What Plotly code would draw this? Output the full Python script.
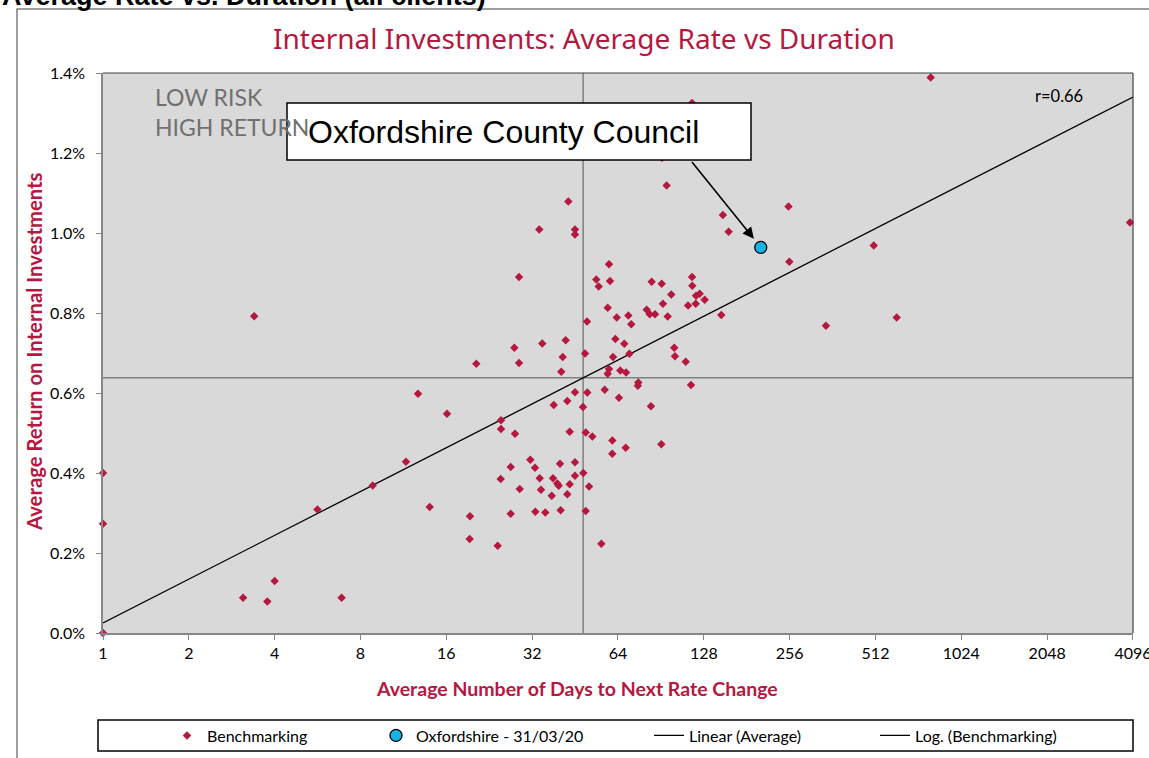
import plotly.graph_objects as go

# ---------------- data ----------------
bench_days = [1, 1, 1, 3.39, 3.10, 3.77, 4.00, 6.87, 5.65, 8.83,
              11.55, 12.73, 16.09, 13.99, 20.38, 19.37, 19.32, 24.22, 24.88, 24.88,
              27.86, 26.91, 24.82, 26.91, 28.94, 27.71, 28.78, 28.78, 33.89, 34.72,
              42.85, 45.22, 45.22, 41.95, 40.96, 40.48, 38.09, 42.50, 48.24, 43.33,
              49.32, 52.03, 45.22, 49.95, 49.04, 49.84, 31.53, 45.22, 40.06, 32.74,
              34.01, 37.87, 45.22, 48.37, 39.21, 39.64, 43.33, 34.37, 50.65, 37.48,
              42.50, 32.83, 35.58, 40.28, 49.32, 55.95, 53.71, 54.77, 59.52, 60.00,
              58.90, 63.35, 69.57, 71.24, 62.65, 67.34, 70.15, 61.48, 59.52, 58.90,
              65.20, 68.30, 57.50, 64.50, 75.40, 75.10, 61.15, 68.10, 61.10, 83.50,
              90.80, 80.70, 82.70, 86.30, 84.00, 91.10, 92.00, 95.60, 98.40, 100.8,
              101.4, 110.6, 115.4, 116.4, 116.6, 112.7, 119.9, 120.2, 123.8, 128.9,
              147.4, 149.3, 156.4, 91.3, 94.8, 116.4, 253.6, 255.3, 504.8, 3998,
              607.7, 343.2, 799.5]
bench_rate = [0.400, 0.273, 0.000, 0.792, 0.088, 0.079, 0.130, 0.088, 0.309, 0.369,
              0.428, 0.598, 0.548, 0.315, 0.673, 0.292, 0.235, 0.218, 0.532, 0.510,
              0.498, 0.415, 0.385, 0.298, 0.360, 0.713, 0.675, 0.890, 1.009, 0.724,
              1.079, 1.009, 0.996, 0.732, 0.690, 0.653, 0.570, 0.580, 0.565, 0.503,
              0.501, 0.491, 0.602, 0.601, 0.699, 0.779, 0.433, 0.427, 0.423, 0.413,
              0.387, 0.387, 0.393, 0.400, 0.374, 0.368, 0.372, 0.358, 0.366, 0.343,
              0.347, 0.303, 0.301, 0.307, 0.305, 0.223, 0.884, 0.866, 0.922, 0.880,
              0.813, 0.789, 0.794, 0.772, 0.735, 0.723, 0.698, 0.690, 0.660, 0.648,
              0.656, 0.651, 0.608, 0.588, 0.626, 0.618, 0.481, 0.463, 0.448, 0.567,
              0.472, 0.808, 0.797, 0.797, 0.878, 0.873, 0.823, 0.791, 0.846, 0.713,
              0.692, 0.678, 0.620, 0.890, 0.868, 0.819, 0.823, 0.843, 0.848, 0.833,
              0.795, 1.045, 1.003, 1.188, 1.119, 1.325, 1.066, 0.928, 0.969, 1.026,
              0.789, 0.768, 1.389]

oxon_days = [202.7]
oxon_rate = [0.964]

avg_days = 48.3
avg_rate = 0.638

trend_days = [1, 4096]
trend_rate = [0.025, 1.340]

x_ticks = [1, 2, 4, 8, 16, 32, 64, 128, 256, 512, 1024, 2048, 4096]
y_ticks = [0.0, 0.2, 0.4, 0.6, 0.8, 1.0, 1.2, 1.4]

# ---------------- styling ----------------
CRIMSON = "#B5173F"
FONT = "Lato"
W, H = 1149, 758
ML, MR, MT, MB = 103, 16, 73, 125
PW = W - ML - MR
PH = H - MT - MB


def px_x(p):
    return (p - ML) / PW


def px_y(p):
    return (H - MB - p) / PH


fig = go.Figure()

# average cross-hair
fig.add_trace(go.Scatter(
    x=[avg_days, avg_days, None, x_ticks[0], x_ticks[-1]],
    y=[y_ticks[0], y_ticks[-1], None, avg_rate, avg_rate],
    mode="lines", line=dict(color="#808080", width=1.5),
    showlegend=False, hoverinfo="skip"))

# log trend
fig.add_trace(go.Scatter(
    x=trend_days, y=trend_rate, mode="lines",
    line=dict(color="black", width=1.3),
    name="Log. (Benchmarking)", legend="legend4"))

# benchmarking points
fig.add_trace(go.Scatter(
    x=bench_days, y=bench_rate, mode="markers",
    marker=dict(symbol="diamond", size=6.5, color=CRIMSON),
    name="Benchmarking", legend="legend", cliponaxis=False))

# Oxfordshire
fig.add_trace(go.Scatter(
    x=oxon_days, y=oxon_rate, mode="markers",
    marker=dict(symbol="circle", size=12, color="#17B2E8",
                line=dict(color="black", width=1.3)),
    name="Oxfordshire - 31/03/20", legend="legend2", cliponaxis=False))

# legend-only entry for average line
fig.add_trace(go.Scatter(
    x=[None], y=[None], mode="lines",
    line=dict(color="black", width=1.3),
    name="Linear (Average)", legend="legend3"))

leg_common = dict(orientation="h", yanchor="middle", y=px_y(735.5),
                  xanchor="left", bgcolor="rgba(0,0,0,0)", borderwidth=0,
                  font=dict(family=FONT, size=16, color="black"))

fig.update_layout(
    width=W, height=H,
    margin=dict(l=ML, r=MR, t=MT, b=MB, autoexpand=False),
    paper_bgcolor="white",
    plot_bgcolor="#D9D9D9",
    font=dict(family=FONT, color="black"),
    legend=dict(x=px_x(208 - 41), **leg_common),
    legend2=dict(x=px_x(417 - 41), **leg_common),
    legend3=dict(x=px_x(690 - 41), **leg_common),
    legend4=dict(x=px_x(916 - 41), **leg_common),
    xaxis=dict(type="log", range=[0, 3.6124], tickvals=x_ticks,
               ticktext=[str(v) for v in x_ticks],
               showgrid=False, zeroline=False,
               showline=True, linecolor="#878787", linewidth=1.5,
               ticks="outside", ticklen=5, tickcolor="#878787",
               ticklabeloverflow="allow",
               tickfont=dict(family=FONT, size=16, color="black")),
    yaxis=dict(range=[0, 1.4], tickvals=y_ticks,
               ticktext=[f"{v:.1f}%" for v in y_ticks],
               showgrid=False, zeroline=False,
               showline=True, linecolor="#878787", linewidth=1.5,
               ticks="outside", ticklen=5, tickcolor="#878787",
               ticklabelstandoff=8,
               tickfont=dict(family=FONT, size=16, color="black")),
)

shapes = [
    # outer chart frame
    dict(type="rect", xref="paper", yref="paper",
         x0=px_x(17), x1=px_x(1170), y0=px_y(780), y1=px_y(9),
         line=dict(color="#7F7F7F", width=1.5), fillcolor="rgba(0,0,0,0)",
         layer="below"),
    # plot-area top & right border
    dict(type="line", xref="paper", yref="paper", x0=0, x1=1, y0=1, y1=1,
         line=dict(color="#404040", width=1.2)),
    dict(type="line", xref="paper", yref="paper", x0=1, x1=1, y0=0, y1=1,
         line=dict(color="#404040", width=1.2)),
    # callout box
    dict(type="rect", xref="paper", yref="paper",
         x0=px_x(287), x1=px_x(751), y0=px_y(160), y1=px_y(103),
         line=dict(color="black", width=1.5), fillcolor="white", layer="above"),
    # legend box
    dict(type="rect", xref="paper", yref="paper",
         x0=px_x(98), x1=px_x(1133), y0=px_y(751), y1=px_y(720),
         line=dict(color="black", width=1.5), fillcolor="white", layer="below"),
]
fig.update_layout(shapes=shapes)

annotations = [
    # page heading (cut off at top, as in the source)
    dict(text="<b>Average Rate vs. Duration (all clients)</b>", xref="paper",
         yref="paper", x=px_x(0), y=px_y(-4), xanchor="left", yanchor="middle",
         showarrow=False, font=dict(family="Liberation Sans", size=27, color="black")),
    # chart title
    dict(text="Internal Investments: Average Rate vs Duration", xref="paper",
         yref="paper", x=px_x(584), y=px_y(38), xanchor="center", yanchor="middle",
         showarrow=False, font=dict(family="Noto Sans", size=28, color=CRIMSON)),
    # axis titles
    dict(text="<b>Average Number of Days to Next Rate Change</b>", xref="paper",
         yref="paper", x=px_x(577), y=px_y(688), xanchor="center", yanchor="middle",
         showarrow=False, font=dict(family=FONT, size=19.5, color=CRIMSON)),
    dict(text="<b>Average Return on Internal Investments</b>", xref="paper",
         yref="paper", x=px_x(34), y=px_y(352), xanchor="center", yanchor="middle",
         textangle=-90, showarrow=False,
         font=dict(family=FONT, size=20.3, color=CRIMSON)),
    # quadrant label
    dict(text="LOW RISK<br>HIGH RETURN", xref="paper", yref="paper",
         x=px_x(153), y=px_y(112.5), xanchor="left", yanchor="middle", align="left",
         showarrow=False, font=dict(family=FONT, size=23, color="#707070")),
    # correlation
    dict(text="r=0.66", xref="paper", yref="paper", x=px_x(1033), y=px_y(96),
         xanchor="left", yanchor="middle", showarrow=False,
         font=dict(family=FONT, size=16.5, color="black")),
    # callout text
    dict(text="Oxfordshire County Council", xref="paper", yref="paper",
         x=px_x(306), y=px_y(132), xanchor="left", yanchor="middle",
         showarrow=False,
         font=dict(family="Liberation Sans", size=32, color="black")),
    # callout arrow
    dict(text="", x=2.30685, y=oxon_rate[0], xref="x", yref="y",
         showarrow=True, axref="pixel", ayref="pixel", ax=-70, ay=-87,
         arrowhead=2, arrowsize=1.4, arrowwidth=1.6, arrowcolor="black",
         standoff=11),
]
fig.update_layout(annotations=annotations)

fig.write_html("out.html", config={"displayModeBar": False},
               post_script="document.body.style.margin='0px';")
